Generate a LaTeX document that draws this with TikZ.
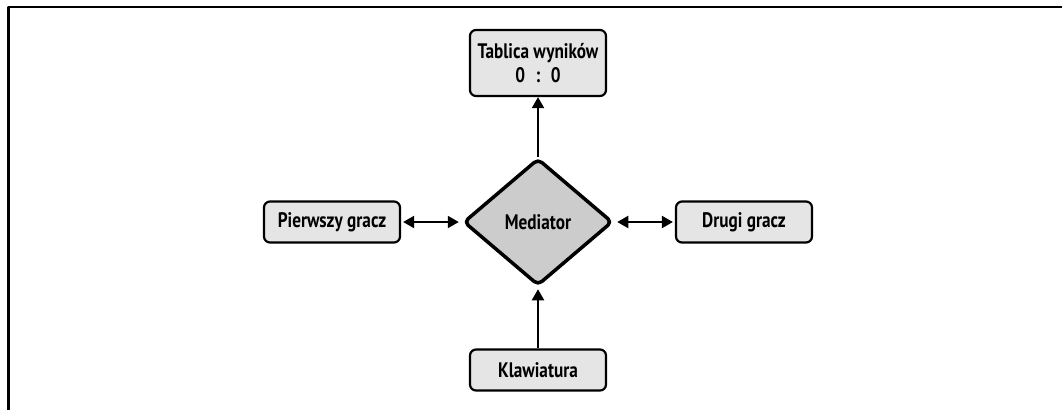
\documentclass[tikz,border=0pt]{standalone}
\usepackage{fontspec}
\setmainfont[FakeStretch=0.82]{PT Sans}
\usetikzlibrary{arrows.meta}
\usetikzlibrary{shapes.geometric}

\begin{document}
\begin{tikzpicture}[x=1pt,y=-1pt,>={Triangle[length=11pt,width=12pt]},line join=round,
 frame line/.style={line width=2.6pt},
 player box/.style={draw,line width=2.2pt,rounded corners=6pt,fill=boxcolor,minimum width=136pt,minimum height=41pt,inner sep=0pt,align=center,font=\bfseries\fontsize{21}{24}\selectfont},
 mediator shape/.style={diamond,draw,line width=3.5pt,rounded corners=5pt,fill=medcolor,aspect=1.17,minimum width=149pt,minimum height=127pt,inner sep=0pt,font=\bfseries\fontsize{21}{24}\selectfont},
 link/.style={line width=2pt}]
 \colorlet{boxcolor}{black!10}
 \colorlet{medcolor}{black!20}

 \useasboundingbox (0,0) rectangle (1062,410);
 \draw[frame line] (8.7,410) -- (8.7,7) -- (1062,7);

 \node[mediator shape] (mediator) at (538,222) {Mediator};
 \node[player box,minimum height=66pt] (score) at (538,63) {Tablica wyników\\0\enspace:\enspace0};
 \node[player box] (first) at (332,222) {Pierwszy gracz};
 \node[player box] (second) at (744,222) {Drugi gracz};
 \node[player box] (keys) at (538,370) {Klawiatura};

 \draw[link,->] (mediator) -- (score);
 \draw[link,<->,shorten <=2pt,shorten >=3pt] (first) -- (mediator);
 \draw[link,<->,shorten <=3pt,shorten >=2pt] (mediator) -- (second);
 \draw[link,->,shorten >=2pt] (keys) -- (mediator);
\end{tikzpicture}
\end{document}
